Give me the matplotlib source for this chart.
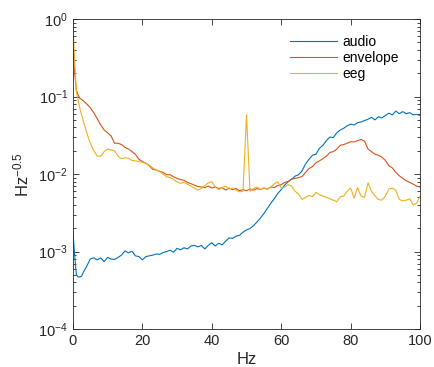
import numpy as np
import matplotlib
matplotlib.use("Agg")
import matplotlib.pyplot as plt
from matplotlib.ticker import LogLocator, NullFormatter

plt.rcParams['font.family'] = ['Liberation Sans', 'DejaVu Sans']
plt.rcParams['mathtext.fontset'] = 'custom'
plt.rcParams['mathtext.rm'] = 'Liberation Sans'
plt.rcParams['mathtext.it'] = 'Liberation Sans:italic'

# frequency grid (Hz)
freq = [0, 0.5, 1, 1.5, 2, 2.5, 3] + list(range(4, 101))

# spectra
audio = [1.8e-3, 9e-4, 5.0e-4, 4.7e-4, 4.7e-4, 4.8e-4, 5.4e-4,
         6.5e-4, 8.0e-4, 8.3e-4, 7.8e-4, 8.3e-4, 7.4e-4, 8.4e-4, 8.0e-4, 7.9e-4, 8.4e-4,
         9.0e-4, 1.02e-3, 9.6e-4, 1.01e-3, 8.8e-4, 8.6e-4, 7.8e-4, 8.6e-4, 8.8e-4, 9.0e-4,
         9.3e-4, 9.2e-4, 9.7e-4, 1.0e-3, 1.04e-3, 9.8e-4, 1.1e-3, 1.05e-3, 1.12e-3, 1.08e-3,
         1.18e-3, 1.2e-3, 1.15e-3, 1.2e-3, 1.08e-3, 1.2e-3, 1.3e-3, 1.18e-3, 1.28e-3, 1.22e-3,
         1.36e-3, 1.5e-3, 1.48e-3, 1.58e-3, 1.62e-3, 1.78e-3, 1.9e-3, 1.98e-3, 2.15e-3, 2.4e-3,
         2.7e-3, 3.1e-3, 3.6e-3, 4.2e-3, 4.8e-3, 5.6e-3, 6.3e-3, 7.2e-3, 8.0e-3, 8.6e-3,
         9.4e-3, 9.8e-3, 1.1e-2, 1.35e-2, 1.55e-2, 1.75e-2, 1.8e-2, 2.15e-2, 2.35e-2, 2.7e-2,
         3.0e-2, 2.95e-2, 3.4e-2, 3.7e-2, 3.9e-2, 4.2e-2, 4.4e-2, 4.3e-2, 4.6e-2, 4.7e-2,
         4.9e-2, 5.1e-2, 5.4e-2, 5.0e-2, 5.5e-2, 5.3e-2, 5.7e-2, 6.1e-2, 5.8e-2, 6.5e-2,
         6.0e-2, 6.4e-2, 6.0e-2, 6.2e-2, 5.8e-2, 5.9e-2, 5.7e-2]

envelope = [0.42, 0.2, 0.12, 0.105, 0.095, 0.092, 0.088,
            0.08, 0.072, 0.062, 0.052, 0.043, 0.037, 0.034, 0.031, 0.025, 0.025,
            0.024, 0.022, 0.021, 0.0195, 0.018, 0.0155, 0.0145, 0.0138, 0.0128, 0.0115,
            0.0113, 0.0108, 0.0105, 0.0098, 0.0098, 0.0092, 0.0088, 0.0085, 0.0083, 0.0078,
            0.0075, 0.0072, 0.0069, 0.0068, 0.0067, 0.0070, 0.0066, 0.0068, 0.0065, 0.0067,
            0.0062, 0.0066, 0.0063, 0.0065, 0.0061, 0.0063, 0.0061, 0.0064, 0.0062, 0.0065,
            0.0063, 0.0066, 0.0064, 0.0068, 0.0067, 0.0071, 0.0073, 0.0078, 0.0080, 0.0086,
            0.0088, 0.0090, 0.0093, 0.0105, 0.0118, 0.0125, 0.014, 0.0148, 0.0158, 0.017,
            0.019, 0.0195, 0.021, 0.0235, 0.024, 0.025, 0.0262, 0.026, 0.027, 0.028,
            0.0265, 0.021, 0.0195, 0.018, 0.0175, 0.0165, 0.015, 0.0128, 0.012, 0.0105,
            0.0095, 0.0088, 0.0082, 0.0078, 0.0074, 0.0070, 0.0068]

eeg = [0.85, 0.3, 0.115, 0.09, 0.07, 0.058, 0.048,
       0.034, 0.025, 0.02, 0.017, 0.017, 0.0195, 0.021, 0.0205, 0.02, 0.017,
       0.0158, 0.0162, 0.016, 0.015, 0.0148, 0.0145, 0.0142, 0.0138, 0.013, 0.012,
       0.0112, 0.0108, 0.0100, 0.0092, 0.0090, 0.0085, 0.0079, 0.0076, 0.0078, 0.0074,
       0.0070, 0.0066, 0.0062, 0.0065, 0.0071, 0.0077, 0.0080, 0.0068, 0.0063, 0.0067,
       0.0070, 0.0064, 0.0066, 0.0062, 0.0059, 0.0060, 0.058, 0.0060, 0.0065, 0.0068,
       0.0063, 0.0066, 0.0064, 0.0068, 0.0075, 0.0079, 0.0066, 0.0068, 0.0073, 0.0070,
       0.0060, 0.0055, 0.0047, 0.0050, 0.0053, 0.0051, 0.0058, 0.0054, 0.0052, 0.0050,
       0.0048, 0.0046, 0.0044, 0.0051, 0.0052, 0.0060, 0.0066, 0.0049, 0.0067, 0.0052,
       0.0050, 0.0077, 0.0060, 0.0052, 0.0047, 0.0046, 0.0052, 0.0064, 0.0066, 0.0062,
       0.0047, 0.0045, 0.0046, 0.0048, 0.0040, 0.0042, 0.0052]

fig = plt.figure(figsize=(4.34, 3.67), dpi=100)
ax = fig.add_axes([0.168, 0.1035, 0.800, 0.8445])

ax.semilogy(freq, audio, color='#0072BD', lw=0.8, label='audio')
ax.semilogy(freq, envelope, color='#D95319', lw=0.8, label='envelope')
ax.semilogy(freq, eeg, color='#EDB120', lw=0.8, label='eeg')

ax.set_xlim(0, 100)
ax.set_ylim(1e-4, 1)
ax.set_xticks([0, 20, 40, 60, 80, 100])
ax.yaxis.set_major_locator(LogLocator(base=10, numticks=10))
ax.yaxis.set_minor_locator(LogLocator(base=10, subs=np.arange(2, 10), numticks=10))
ax.yaxis.set_minor_formatter(NullFormatter())

ax.tick_params(which='both', direction='in', top=True, right=True,
               labelsize=10.5, colors='#262626', width=0.6)
ax.tick_params(which='major', length=4)
ax.tick_params(which='minor', length=2.5)
for s in ax.spines.values():
    s.set_color('#262626')
    s.set_linewidth(0.6)

ax.set_xlabel('Hz', fontsize=12, color='#262626', labelpad=3)
ax.set_ylabel('Hz$^{-0.5}$', fontsize=12, color='#262626', labelpad=5)

ax.legend(loc='upper left', bbox_to_anchor=(0.625, 0.95), frameon=False,
          fontsize=10, handlelength=3.4, handletextpad=0.35,
          labelspacing=0.15, borderpad=0, borderaxespad=0)

plt.savefig('out.png', dpi=100)
